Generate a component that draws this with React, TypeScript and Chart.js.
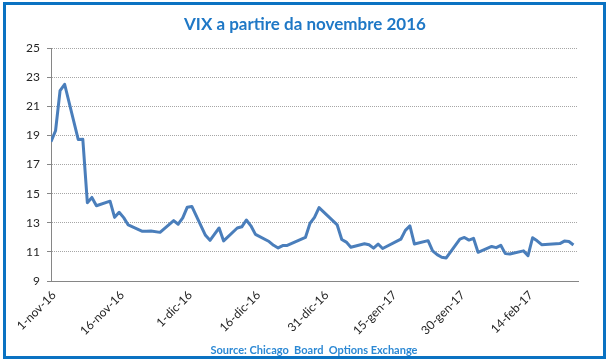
import React, { useEffect, useRef } from "react";
import { Chart, registerables } from "chart.js";

Chart.register(...registerables);

const dates = [
  "2016-11-01", "2016-11-02", "2016-11-03", "2016-11-04", "2016-11-07", "2016-11-08", "2016-11-09", "2016-11-10",
  "2016-11-11", "2016-11-14", "2016-11-15", "2016-11-16", "2016-11-17", "2016-11-18", "2016-11-21", "2016-11-22",
  "2016-11-23", "2016-11-25", "2016-11-28", "2016-11-29", "2016-11-30", "2016-12-01", "2016-12-02", "2016-12-05",
  "2016-12-06", "2016-12-07", "2016-12-08", "2016-12-09", "2016-12-12", "2016-12-13", "2016-12-14", "2016-12-15",
  "2016-12-16", "2016-12-19", "2016-12-20", "2016-12-21", "2016-12-22", "2016-12-23", "2016-12-27", "2016-12-28",
  "2016-12-29", "2016-12-30", "2017-01-03", "2017-01-04", "2017-01-05", "2017-01-06", "2017-01-09", "2017-01-10",
  "2017-01-11", "2017-01-12", "2017-01-13", "2017-01-17", "2017-01-18", "2017-01-19", "2017-01-20", "2017-01-23",
  "2017-01-24", "2017-01-25", "2017-01-26", "2017-01-27", "2017-01-30", "2017-01-31", "2017-02-01", "2017-02-02",
  "2017-02-03", "2017-02-06", "2017-02-07", "2017-02-08", "2017-02-09", "2017-02-10", "2017-02-13", "2017-02-14",
  "2017-02-15", "2017-02-16", "2017-02-17", "2017-02-21", "2017-02-22", "2017-02-23", "2017-02-24",
];

const vix = [
  18.56, 19.32, 22.08, 22.51, 18.71, 18.74, 14.38, 14.74,
  14.17, 14.48, 13.37, 13.72, 13.35, 12.85, 12.42, 12.41,
  12.43, 12.34, 13.15, 12.9, 13.33, 14.07, 14.12, 12.14,
  11.79, 12.22, 12.64, 11.75, 12.64, 12.72, 13.19, 12.79,
  12.2, 11.71, 11.45, 11.27, 11.43, 11.44, 11.99, 12.95,
  13.37, 14.04, 12.85, 11.85, 11.67, 11.32, 11.56, 11.49,
  11.26, 11.54, 11.23, 11.87, 12.48, 12.78, 11.54, 11.77,
  11.07, 10.81, 10.63, 10.58, 11.88, 11.99, 11.81, 11.93,
  10.97, 11.37, 11.29, 11.45, 10.88, 10.85, 11.07, 10.74,
  11.97, 11.76, 11.49, 11.57, 11.74, 11.71, 11.47,
];

const tickDays = [0, 15, 30, 45, 60, 75, 90, 105];
const tickLabels = ["1-nov-16", "16-nov-16", "1-dic-16", "16-dic-16", "31-dic-16", "15-gen-17", "30-gen-17", "14-feb-17"];

const titleText = "VIX a partire da novembre 2016";
const sourceText = "Source: Chicago  Board  Options Exchange";

const startMs = Date.UTC(2016, 10, 1);
const dayOf = (s: string) => {
  const [y, m, d] = s.split("-").map(Number);
  return Math.round((Date.UTC(y, m - 1, d) - startMs) / 86400000);
};

export default function App() {
  const ref = useRef<HTMLCanvasElement | null>(null);
  useEffect(() => {
    document.body.style.margin = "0";
    const canvas = ref.current!;
    const decor = {
      id: "decor",
      beforeDraw(chart: any) {
        const ctx = chart.ctx;
        ctx.save();
        ctx.fillStyle = "#ffffff";
        ctx.fillRect(0, 0, chart.width, chart.height);
        ctx.restore();
      },
      afterDraw(chart: any) {
        const ctx = chart.ctx;
        ctx.save();
        ctx.fillStyle = "#1f78c6";
        ctx.font = "bold 17px Lato";
        ctx.textAlign = "center";
        ctx.textBaseline = "middle";
        ctx.fillText(titleText, 305, 25);
        ctx.fillStyle = "#2b88d4";
        ctx.font = "bold 11px Lato";
        ctx.fillText(sourceText, 314, 350);
        ctx.strokeStyle = "#0a72c2";
        ctx.lineWidth = 3;
        ctx.strokeRect(4.5, 3.5, 600, 354);
        ctx.restore();
      },
    };
    const chart = new Chart(canvas, {
      type: "line",
      data: {
        datasets: [
          {
            data: dates.map((d, i) => ({ x: dayOf(d), y: vix[i] })),
            borderColor: "#4a7ebb",
            borderWidth: 3,
            pointRadius: 0,
            tension: 0,
            borderJoinStyle: "round",
            fill: false,
          },
        ],
      },
      options: {
        animation: false,
        responsive: false,
        devicePixelRatio: 1,
        layout: { padding: { top: 48, right: 29, left: 0, bottom: 0 } },
        plugins: { legend: { display: false }, tooltip: { enabled: false } },
        scales: {
          x: {
            type: "linear",
            min: 0,
            max: 116,
            afterBuildTicks: (scale: any) => {
              scale.ticks = tickDays.map((v) => ({ value: v }));
            },
            afterFit: (scale: any) => {
              scale.height = 80;
            },
            ticks: {
              autoSkip: false,
              minRotation: 45,
              maxRotation: 45,
              padding: 7,
              labelOffset: 3,
              color: "#262626",
              font: { family: "Lato", size: 12 },
              callback: (v: any) => {
                const i = tickDays.indexOf(Number(v));
                return i >= 0 ? tickLabels[i] : "";
              },
            },
            grid: { display: false, drawTicks: false },
            border: { display: true, color: "#868686", width: 1 },
          },
          y: {
            min: 9,
            max: 25,
            afterFit: (scale: any) => {
              scale.width = 51;
            },
            ticks: {
              stepSize: 2,
              padding: 7,
              color: "#262626",
              font: { family: "Lato", size: 12 },
            },
            grid: {
              display: true,
              color: "#a6a6a6",
              lineWidth: 1,
              drawTicks: true,
              tickLength: 4,
              tickColor: "#868686",
              tickBorderDash: [],
            },
            border: { display: true, color: "#868686", width: 1, dash: [1, 1] },
          },
        },
      },
      plugins: [decor],
    } as any);
    return () => chart.destroy();
  }, []);
  return (
    <div style={{ width: 607, height: 361 }}>
      <canvas ref={ref} width={607} height={361} style={{ display: "block" }} />
    </div>
  );
}
